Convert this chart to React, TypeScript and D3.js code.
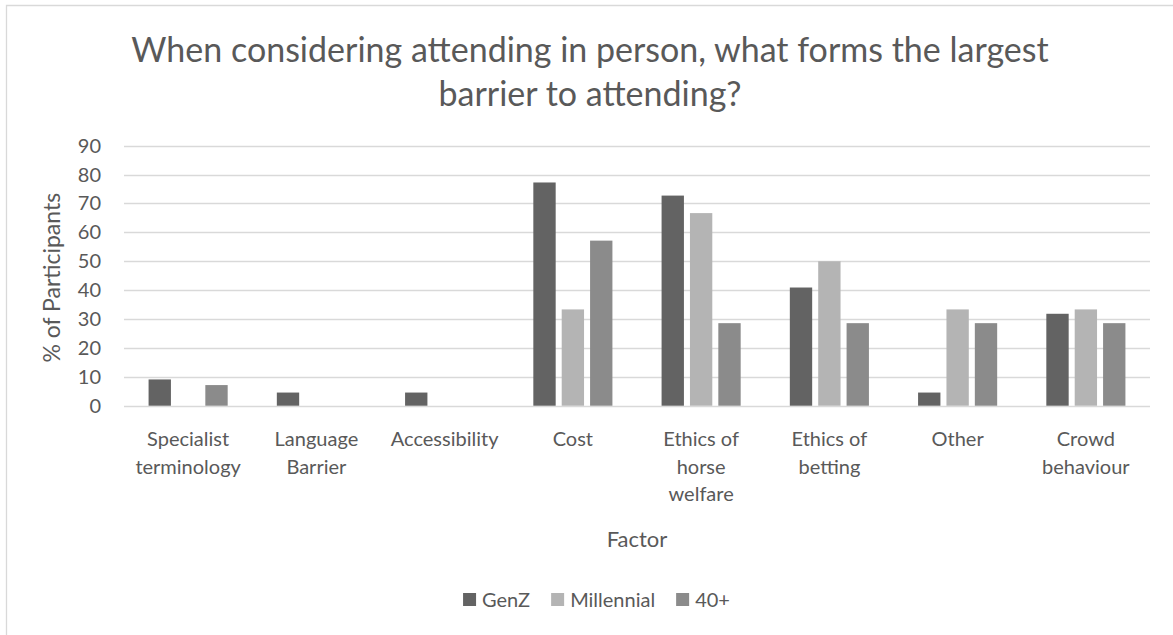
import { useEffect, useRef } from 'react';
import * as d3 from 'd3';

const categories = [
  'Specialist terminology',
  'Language Barrier',
  'Accessibility',
  'Cost',
  'Ethics of horse welfare',
  'Ethics of betting',
  'Other',
  'Crowd behaviour',
];

// wrapped labels as they appear under the axis
const categoryLines = [
  ['Specialist', 'terminology'],
  ['Language', 'Barrier'],
  ['Accessibility'],
  ['Cost'],
  ['Ethics of', 'horse', 'welfare'],
  ['Ethics of', 'betting'],
  ['Other'],
  ['Crowd', 'behaviour'],
];

const seriesNames = ['GenZ', 'Millennial', '40+'];

const genZ = [9.09, 4.55, 4.55, 77.27, 72.73, 40.91, 4.55, 31.82];
const millennial = [0, 0, 0, 33.33, 66.67, 50, 33.33, 33.33];
const over40 = [7.14, 0, 0, 57.14, 28.57, 28.57, 28.57, 28.57];

const yTicks = [0, 10, 20, 30, 40, 50, 60, 70, 80, 90];

const titleLines = [
  'When considering attending in person, what forms the largest',
  'barrier to attending?',
];

const colors = ['#636363', '#b4b4b4', '#8b8b8b'];

const App = () => {
  const chartRef = useRef<SVGSVGElement | null>(null);

  useEffect(() => {
    if (!chartRef.current) return;
    d3.select(chartRef.current).selectAll('*').remove();

    const width = 1173;
    const height = 635;
    const font = 'Lato, "Open Sans", sans-serif';
    const textColor = '#595959';
    const gridColor = '#d9d9d9';

    const svg = d3.select(chartRef.current)
      .attr('width', width)
      .attr('height', height)
      .style('font-family', font);

    svg.append('rect')
      .attr('width', width)
      .attr('height', height)
      .attr('fill', '#fff');

    // chart frame (only top and left edges show)
    svg.append('path')
      .attr('d', `M6.5,${height}V5.5H${width}`)
      .attr('fill', 'none')
      .attr('stroke', gridColor)
      .attr('stroke-width', 1.3);

    // Title
    const title = svg.append('text')
      .attr('text-anchor', 'middle')
      .attr('fill', textColor)
      .style('font-size', '34px');
    titleLines.forEach((line, i) => {
      title.append('tspan')
        .attr('x', 590)
        .attr('y', 62 + i * 44)
        .text(line);
    });

    const plotLeft = 124;
    const plotRight = 1150;

    const x = d3.scaleBand<string>()
      .domain(categories)
      .range([plotLeft, plotRight])
      .padding(0);

    const y = d3.scaleLinear()
      .domain([0, 90])
      .range([405.7, 145.7]);

    // gap width 220%, overlap -27%
    const gap = 2.2;
    const ov = 0.27;
    const barW = x.bandwidth() / (3 + 2 * ov + gap);
    const barStep = barW * (1 + ov);
    const outer = (gap * barW) / 2;

    // gridlines
    svg.append('g')
      .selectAll('line')
      .data(yTicks)
      .enter()
      .append('line')
      .attr('x1', plotLeft)
      .attr('x2', plotRight)
      .attr('y1', d => Math.round(y(d)) + 0.5)
      .attr('y2', d => Math.round(y(d)) + 0.5)
      .attr('stroke', gridColor)
      .attr('stroke-width', 1.3);

    // y tick labels
    svg.append('g')
      .selectAll('text')
      .data(yTicks)
      .enter()
      .append('text')
      .attr('x', 101)
      .attr('y', d => y(d))
      .attr('dy', '0.35em')
      .attr('text-anchor', 'end')
      .attr('fill', textColor)
      .style('font-size', '20px')
      .text(d => d);

    // bars
    const allSeries = [genZ, millennial, over40];
    allSeries.forEach((values, s) => {
      svg.append('g')
        .selectAll('rect')
        .data(values)
        .enter()
        .append('rect')
        .attr('x', (_, i) => (x(categories[i]) || 0) + outer + s * barStep)
        .attr('y', d => y(d))
        .attr('width', barW)
        .attr('height', d => y(0) - y(d))
        .attr('fill', colors[s]);
    });

    // x labels
    categories.forEach((c, i) => {
      const t = svg.append('text')
        .attr('text-anchor', 'middle')
        .attr('fill', textColor)
        .style('font-size', '20px');
      categoryLines[i].forEach((line, j) => {
        t.append('tspan')
          .attr('x', (x(c) || 0) + x.bandwidth() / 2)
          .attr('y', 446 + j * 27.5)
          .text(line);
      });
    });

    // axis titles
    svg.append('text')
      .attr('x', (plotLeft + plotRight) / 2)
      .attr('y', 547)
      .attr('text-anchor', 'middle')
      .attr('fill', textColor)
      .style('font-size', '22px')
      .text('Factor');

    svg.append('text')
      .attr('transform', `translate(60,${(y(0) + y(90)) / 2 + 2}) rotate(-90)`)
      .attr('text-anchor', 'middle')
      .attr('fill', textColor)
      .style('font-size', '23px')
      .text('% of Participants');

    // legend
    const legend = svg.append('g');
    let lx = 0;
    seriesNames.forEach((name, i) => {
      const item = legend.append('g').attr('transform', `translate(${lx},0)`);
      item.append('rect')
        .attr('x', 0)
        .attr('y', 593)
        .attr('width', 13)
        .attr('height', 13)
        .attr('fill', colors[i]);
      const label = item.append('text')
        .attr('x', 19)
        .attr('y', 607)
        .attr('fill', textColor)
        .style('font-size', '20px')
        .text(name);
      const w = (label.node() as SVGTextElement).getComputedTextLength();
      lx += 19 + w + 21;
    });
    const legendW = lx - 21;
    legend.attr('transform', `translate(${596.5 - legendW / 2},0)`);
  }, []);

  return (
    <svg ref={chartRef} style={{ position: 'absolute', left: 0, top: 0 }}></svg>
  );
};

export default App;
